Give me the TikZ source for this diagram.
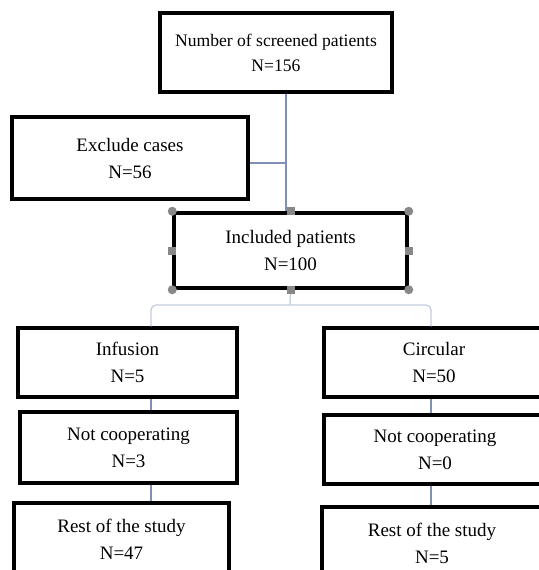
\documentclass[tikz,border=0pt]{standalone}
\usepackage{fontspec}
\setmainfont{Liberation Serif}
\usepackage{tikz}

\definecolor{linkblue}{RGB}{128,143,181}
\definecolor{linklight}{RGB}{196,206,222}
\definecolor{handlegray}{RGB}{136,136,136}

\begin{document}
\begin{tikzpicture}[x=1pt, y=-1pt,
    box/.style={draw, line width=3.5pt, align=center, inner sep=0pt,
        font=\fontsize{19}{27}\selectfont},
    link/.style={linkblue, line width=1.8pt},
    bracket/.style={linklight, line width=1.3pt, rounded corners=5pt},
    handlesq/.style={fill=handlegray, minimum size=8pt, inner sep=0pt},
    handledot/.style={circle, fill=handlegray, minimum size=9pt, inner sep=0pt}]
    % Frame
    \useasboundingbox (0,0) rectangle (538,570);

    % Junctions and columns
    \coordinate (trunk) at (286,163);
    \coordinate (split) at (290,305);
    \coordinate (lcol) at (151,0);
    \coordinate (rcol) at (431,0);

    % Top part
    \node[box, minimum width=232pt, minimum height=79pt,
        font=\fontsize{17.6}{25}\selectfont] (screened) at (276,52.5)
        {Number of screened patients\\N=156};
    \node[box, minimum width=236pt, minimum height=82pt] (exclude) at (130,158)
        {Exclude cases\\N=56};
    \node[box, minimum width=233pt, minimum height=75pt] (included) at (290.5,250.5)
        {Included patients\\N=100};

    % Two groups
    \node[box, minimum width=219pt, minimum height=69pt] (infusion) at (127.5,362.5)
        {Infusion\\N=5};
    \node[box, minimum width=220pt, minimum height=69pt] (circular) at (434,362.5)
        {Circular\\N=50};
    \node[box, minimum width=217pt, minimum height=71pt] (notcoopA) at (128.5,447.5)
        {Not cooperating\\N=3};
    \node[box, minimum width=222pt, minimum height=69pt] (notcoopB) at (435,449.5)
        {Not cooperating\\N=0};
    \node[box, minimum width=215pt, minimum height=72pt] (restA) at (121.5,539)
        {Rest of the study\\N=47};
    \node[box, minimum width=220pt, minimum height=72pt] (restB) at (432,543)
        {Rest of the study\\N=5};

    % Connectors
    \draw[link] (screened.south -| trunk) -- (included.north -| trunk);
    \draw[link] (exclude.east |- trunk) -- (trunk);
    \draw[bracket] (included.south) -- (split);
    \draw[bracket] (infusion.north -| lcol) |- (split) -| (circular.north -| rcol);
    \draw[link, line width=1.5pt] (infusion.south -| lcol) -- (notcoopA.north -| lcol);
    \draw[link, line width=1.5pt] (notcoopA.south -| lcol) -- (restA.north -| lcol);
    \draw[link, line width=1.5pt] (circular.south -| rcol) -- (notcoopB.north -| rcol);
    \draw[link, line width=1.5pt] (notcoopB.south -| rcol) -- (restB.north -| rcol);

    % Selection handles
    \foreach \a/\n in {north west/nw, north east/ne, south west/sw, south east/se}
        \node[handledot] (hc-\n) at (included.\a) {};
    \foreach \a in {north, south, east, west}
        \node[handlesq] (hs-\a) at (included.\a) {};
\end{tikzpicture}
\end{document}
